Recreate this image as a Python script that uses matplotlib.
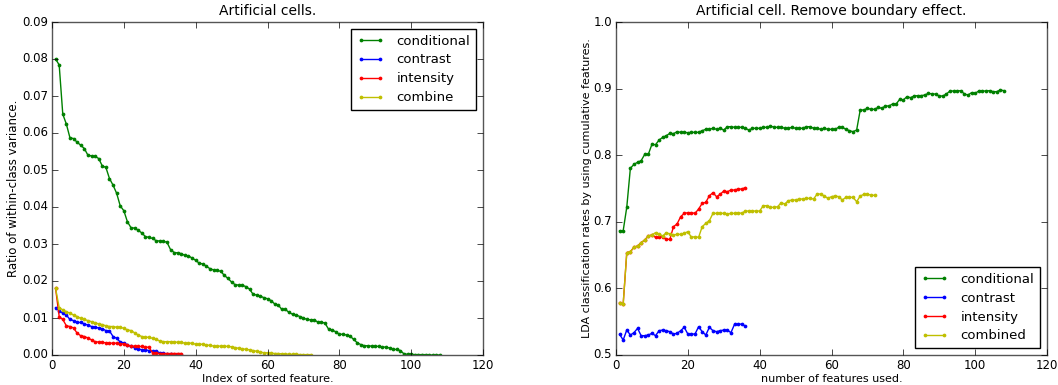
import numpy as np
import matplotlib
matplotlib.use("Agg")
import matplotlib.pyplot as plt

plt.style.use("classic")

# ---------------- data: left panel (ratio of within-class variance) ----------------
left_conditional = [
    0.0800, 0.0784, 0.0651, 0.0624, 0.0587, 0.0585, 0.0575, 0.0567, 0.0558, 0.0540,
    0.0538, 0.0537, 0.0531, 0.0511, 0.0507, 0.0477, 0.0459, 0.0437, 0.0403, 0.0390,
    0.0360, 0.0344, 0.0343, 0.0337, 0.0330, 0.0320, 0.0318, 0.0315, 0.0309, 0.0308,
    0.0307, 0.0305, 0.0285, 0.0277, 0.0276, 0.0274, 0.0269, 0.0268, 0.0262, 0.0256,
    0.0248, 0.0246, 0.0240, 0.0233, 0.0230, 0.0229, 0.0226, 0.0215, 0.0207, 0.0197,
    0.0190, 0.0189, 0.0188, 0.0185, 0.0178, 0.0164, 0.0162, 0.0159, 0.0155, 0.0152,
    0.0147, 0.0138, 0.0135, 0.0123, 0.0123, 0.0115, 0.0110, 0.0108, 0.0104, 0.0100,
    0.0096, 0.0095, 0.0095, 0.0089, 0.0089, 0.0086, 0.0070, 0.0067, 0.0063, 0.0056,
    0.0056, 0.0054, 0.0051, 0.0042, 0.0033, 0.0028, 0.0025, 0.0025, 0.0024, 0.0024,
    0.0023, 0.0022, 0.0021, 0.0019, 0.0015, 0.0015, 0.0012, 0.0003, 0.0002, 0.0002,
    0.0001, 0.0001, 0.0001, 0.0001, 0.0000, 0.0000, 0.0000, 0.0000,
]
left_contrast = [
    0.0128, 0.0120, 0.0113, 0.0108, 0.0096, 0.0093, 0.0088, 0.0088, 0.0084, 0.0081,
    0.0077, 0.0075, 0.0073, 0.0071, 0.0066, 0.0065, 0.0050, 0.0045, 0.0035, 0.0033,
    0.0027, 0.0024, 0.0020, 0.0017, 0.0014, 0.0014, 0.0012, 0.0010, 0.0010, 0.0006,
    0.0005, 0.0003, 0.0002, 0.0001, 0.0001, 0.0000,
]
left_intensity = [
    0.0180, 0.0104, 0.0096, 0.0079, 0.0077, 0.0073, 0.0059, 0.0052, 0.0050, 0.0046,
    0.0041, 0.0036, 0.0035, 0.0034, 0.0033, 0.0032, 0.0032, 0.0032, 0.0030, 0.0030,
    0.0026, 0.0024, 0.0024, 0.0023, 0.0023, 0.0021, 0.0021, 0.0006, 0.0005, 0.0004,
    0.0004, 0.0004, 0.0004, 0.0004, 0.0004, 0.0004,
]
left_combine = [
    0.0180, 0.0128, 0.0122, 0.0117, 0.0113, 0.0108, 0.0104, 0.0099, 0.0096, 0.0093,
    0.0090, 0.0087, 0.0084, 0.0082, 0.0079, 0.0077, 0.0077, 0.0075, 0.0075, 0.0072,
    0.0068, 0.0066, 0.0060, 0.0054, 0.0050, 0.0048, 0.0048, 0.0045, 0.0042, 0.0038,
    0.0036, 0.0036, 0.0036, 0.0036, 0.0034, 0.0034, 0.0032, 0.0032, 0.0032, 0.0029,
    0.0029, 0.0029, 0.0027, 0.0026, 0.0024, 0.0024, 0.0024, 0.0024, 0.0023, 0.0022,
    0.0020, 0.0018, 0.0017, 0.0015, 0.0014, 0.0012, 0.0010, 0.0008, 0.0006, 0.0006,
    0.0005, 0.0004, 0.0004, 0.0003, 0.0003, 0.0002, 0.0002, 0.0002, 0.0001, 0.0001,
    0.0001, 0.0001,
]

# ---------------- data: right panel (LDA classification rates) ----------------
right_conditional = [
    0.6866, 0.6866, 0.7220, 0.7803, 0.7863, 0.7893, 0.7918, 0.8013, 0.8013, 0.8163,
    0.8158, 0.8228, 0.8268, 0.8293, 0.8328, 0.8323, 0.8353, 0.8343, 0.8343, 0.8338,
    0.8343, 0.8343, 0.8343, 0.8368, 0.8389, 0.8389, 0.8404, 0.8389, 0.8404, 0.8378,
    0.8428, 0.8428, 0.8419, 0.8419, 0.8419, 0.8404, 0.8378, 0.8404, 0.8404, 0.8404,
    0.8419, 0.8419, 0.8438, 0.8419, 0.8419, 0.8419, 0.8404, 0.8404, 0.8419, 0.8404,
    0.8404, 0.8404, 0.8428, 0.8428, 0.8404, 0.8404, 0.8389, 0.8404, 0.8389, 0.8389,
    0.8389, 0.8419, 0.8419, 0.8389, 0.8368, 0.8353, 0.8378, 0.8679, 0.8679, 0.8704,
    0.8689, 0.8689, 0.8719, 0.8704, 0.8739, 0.8739, 0.8769, 0.8769, 0.8839, 0.8829,
    0.8879, 0.8864, 0.8889, 0.8894, 0.8894, 0.8904, 0.8929, 0.8919, 0.8919, 0.8889,
    0.8889, 0.8919, 0.8964, 0.8964, 0.8964, 0.8969, 0.8919, 0.8904, 0.8939, 0.8929,
    0.8964, 0.8964, 0.8964, 0.8969, 0.8954, 0.8954, 0.8979, 0.8969,
]
right_contrast = [
    0.5311, 0.5225, 0.5375, 0.5300, 0.5335, 0.5400, 0.5290, 0.5290, 0.5300, 0.5325,
    0.5290, 0.5365, 0.5375, 0.5365, 0.5350, 0.5315, 0.5325, 0.5365, 0.5416, 0.5315,
    0.5315, 0.5315, 0.5425, 0.5350, 0.5300, 0.5416, 0.5365, 0.5350, 0.5365, 0.5375,
    0.5375, 0.5335, 0.5461, 0.5461, 0.5465, 0.5435,
]
right_intensity = [
    0.5786, 0.5766, 0.6536, 0.6551, 0.6617, 0.6637, 0.6687, 0.6727, 0.6787, 0.6802,
    0.6767, 0.6767, 0.6777, 0.6737, 0.6737, 0.6927, 0.6967, 0.7077, 0.7127, 0.7137,
    0.7137, 0.7127, 0.7192, 0.7277, 0.7292, 0.7392, 0.7437, 0.7377, 0.7413, 0.7462,
    0.7452, 0.7477, 0.7477, 0.7492, 0.7492, 0.7513,
]
right_combined = [
    0.5786, 0.5766, 0.6536, 0.6551, 0.6617, 0.6637, 0.6687, 0.6727, 0.6787, 0.6802,
    0.6837, 0.6817, 0.6787, 0.6837, 0.6817, 0.6802, 0.6812, 0.6812, 0.6827, 0.6852,
    0.6767, 0.6777, 0.6767, 0.6927, 0.6977, 0.7017, 0.7127, 0.7127, 0.7127, 0.7127,
    0.7117, 0.7127, 0.7127, 0.7137, 0.7127, 0.7162, 0.7162, 0.7162, 0.7162, 0.7162,
    0.7242, 0.7242, 0.7217, 0.7217, 0.7227, 0.7287, 0.7267, 0.7317, 0.7327, 0.7327,
    0.7342, 0.7342, 0.7352, 0.7352, 0.7342, 0.7417, 0.7417, 0.7387, 0.7353, 0.7378,
    0.7387, 0.7378, 0.7327, 0.7367, 0.7367, 0.7367, 0.7302, 0.7387, 0.7412, 0.7412,
    0.7402, 0.7397,
]

left_labels = ["conditional", "contrast", "intensity", "combine"]
right_labels = ["conditional", "contrast", "intensity", "combined"]
colors = ["g", "b", "r", "y"]

fig = plt.figure(figsize=(10.58, 3.85), dpi=100, facecolor="white")
ax1 = fig.add_axes([52 / 1058, 30 / 385, 431 / 1058, 333 / 385])
ax2 = fig.add_axes([616 / 1058, 30 / 385, 431 / 1058, 333 / 385])

def draw(ax, series, labels):
    for vals, lab, c in zip(series, labels, colors):
        x = np.arange(1, len(vals) + 1)
        ax.plot(x, vals, "-", color=c, marker="o", markersize=2.7,
                markeredgewidth=0, linewidth=1.0, label=lab)

draw(ax1, [left_conditional, left_contrast, left_intensity, left_combine], left_labels)
draw(ax2, [right_conditional, right_contrast, right_intensity, right_combined], right_labels)

ax1.set_xlim(0, 120)
ax1.set_ylim(0, 0.09)
ax1.set_xticks(np.arange(0, 121, 20))
ax1.set_yticks(np.arange(0, 0.0901, 0.01))
ax1.set_yticklabels(["%.2f" % v for v in np.arange(0, 0.0901, 0.01)])
ax1.set_title("Artificial cells.", fontsize=10)
ax1.set_xlabel("Index of sorted feature.", fontsize=8, labelpad=1)
ax1.set_ylabel("Ratio of within-class variance.", fontsize=8.5, labelpad=1)

ax2.set_xlim(0, 120)
ax2.set_ylim(0.5, 1.0)
ax2.set_xticks(np.arange(0, 121, 20))
ax2.set_yticks(np.arange(0.5, 1.001, 0.1))
ax2.set_title("Artificial cell. Remove boundary effect.", fontsize=10)
ax2.set_xlabel("number of features used.", fontsize=8, labelpad=1)
ax2.set_ylabel("LDA classification rates by using cumulative features.", fontsize=8, labelpad=1)

for ax, loc in ((ax1, "upper right"), (ax2, "lower right")):
    ax.legend(loc=loc, fontsize=9.5, numpoints=2, borderaxespad=0.5,
              handlelength=2.0, handletextpad=1.0, labelspacing=0.45,
              borderpad=0.45)
    ax.tick_params(labelsize=8.5, direction="in", length=4, pad=3)
    for s in ax.spines.values():
        s.set_color("#555555")

fig.savefig("out.png", dpi=100, facecolor="white")
